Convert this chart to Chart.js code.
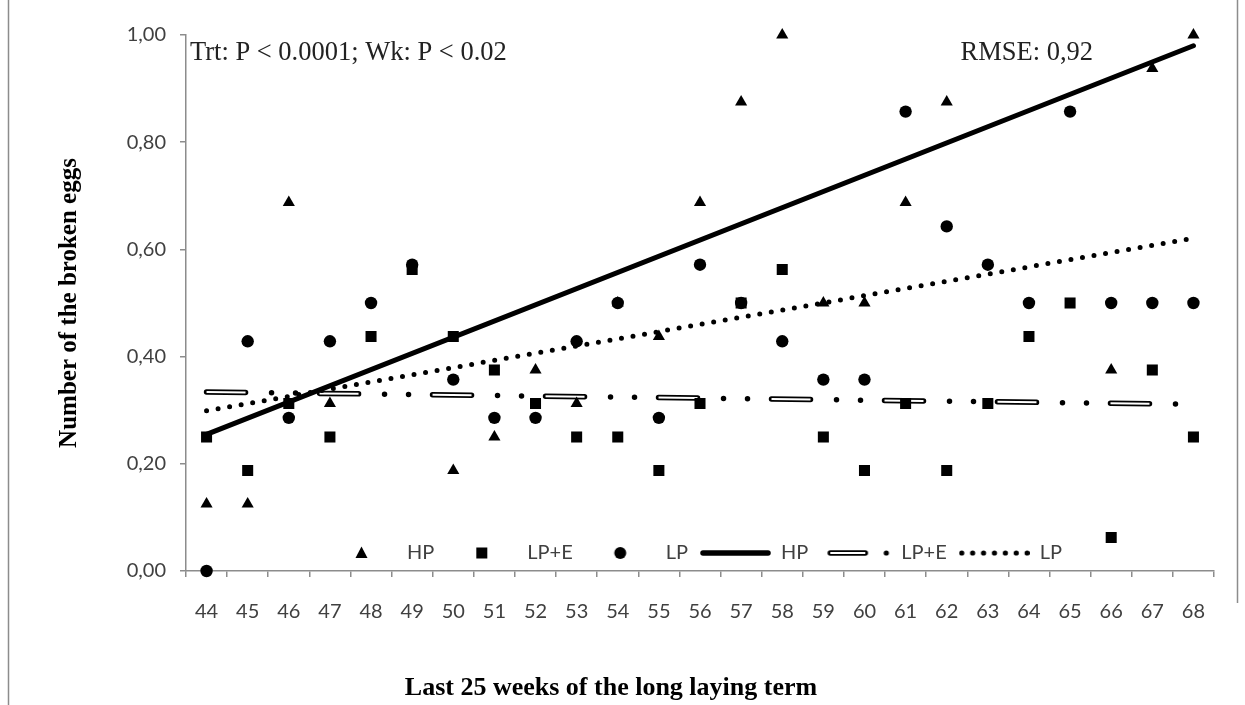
<!DOCTYPE html>
<html>
<head>
<meta charset="utf-8">
<script src="https://cdn.jsdelivr.net/npm/chart.js@4.4.1/dist/chart.umd.min.js"></script>
<style>
  html, body { margin: 0; padding: 0; background: #ffffff; }
  #wrap { position: relative; width: 1245px; height: 705px; }
  canvas { display: block; }
</style>
</head>
<body>
<div id="wrap"><canvas id="c" width="1245" height="705"></canvas></div>
<script>
// ---- data ----
const weeks = ['44','45','46','47','48','49','50','51','52','53','54','55','56','57','58','59','60','61','62','63','64','65','66','67','68'];
const hpValues   = [0.125,0.125,0.6875,0.3125,null,null,0.1875,0.25,0.375,0.3125,0.5,0.4375,0.6875,0.875,1.0,0.5,0.5,0.6875,0.875,null,null,null,0.375,0.9375,1.0];
const lpeValues  = [0.25,0.1875,0.3125,0.25,0.4375,0.5625,0.4375,0.375,0.3125,0.25,0.25,0.1875,0.3125,0.5,0.5625,0.25,0.1875,0.3125,0.1875,0.3125,0.4375,0.5,0.0625,0.375,0.25];
const lpValues   = [0.0,0.4286,0.2857,0.4286,0.5,0.5714,0.3571,0.2857,0.2857,0.4286,0.5,0.2857,0.5714,0.5,0.4286,0.3571,0.3571,0.8571,0.6429,0.5714,0.5,0.8571,0.5,0.5,0.5];
// linear trend lines: value at first and last week
const trendWeeks = ['44','68'];
const hpTrend  = [0.255, 0.980];
const lpeTrend = [0.334, 0.311];
const lpTrend  = [0.299, 0.621];
const yTicks = [0, 0.2, 0.4, 0.6, 0.8, 1.0];
const legendNames = ['HP','LP+E','LP','HP','LP+E','LP'];
const noteLeft = 'Trt: P < 0.0001; Wk: P < 0.02';
const noteRight = 'RMSE: 0,92';
const yTitle = 'Number of the broken eggs';
const xTitle = 'Last 25 weeks of the long laying term';

// ---- legend symbol images ----
function makeSym(w, h, draw) {
  const c = document.createElement('canvas');
  c.width = w; c.height = h;
  const g = c.getContext('2d');
  draw(g, w, h);
  return c;
}
const SW = 71, SH = 14;
const symTri = makeSym(SW, SH, (g, w, h) => {
  g.fillStyle = '#000'; g.beginPath();
  g.moveTo(w/2, h/2 - 6.5); g.lineTo(w/2 + 6, h/2 + 5); g.lineTo(w/2 - 6, h/2 + 5); g.closePath(); g.fill();
});
const symSq = makeSym(SW, SH, (g, w, h) => { g.fillStyle = '#000'; g.fillRect(w/2 - 5.5, h/2 - 5.5, 11, 11); });
const symCir = makeSym(SW, SH, (g, w, h) => { g.fillStyle = '#000'; g.beginPath(); g.arc(w/2, h/2, 6, 0, Math.PI*2); g.fill(); });
const symThick = makeSym(SW, SH, (g, w, h) => {
  g.strokeStyle = '#000'; g.lineWidth = 5.5; g.lineCap = 'round';
  g.beginPath(); g.moveTo(3, h/2); g.lineTo(w - 3, h/2); g.stroke();
});
const symDouble = makeSym(SW, SH, (g, w, h) => {
  g.strokeStyle = '#000'; g.lineWidth = 5.5; g.lineCap = 'round';
  g.beginPath(); g.moveTo(10, h/2); g.lineTo(45, h/2); g.stroke();
  g.strokeStyle = '#fff'; g.lineWidth = 2; g.lineCap = 'butt';
  g.beginPath(); g.moveTo(10, h/2); g.lineTo(45, h/2); g.stroke();
  g.fillStyle = '#000'; g.beginPath(); g.arc(66, h/2, 2.6, 0, Math.PI*2); g.fill();
});
const symDots = makeSym(SW, SH, (g, w, h) => {
  g.fillStyle = '#000';
  for (let i = 0; i < 7; i++) { g.beginPath(); g.arc(3 + i * 10.9, h/2, 2.6, 0, Math.PI*2); g.fill(); }
});
const legendSyms = [symTri, symSq, symCir, symThick, symDouble, symDots];

const trendData = (vals) => trendWeeks.map((w, i) => ({x: w, y: vals[i]}));

const pointSet = (label, data, style, radius) => ({
  type: 'line', label, data, showLine: false, clip: false,
  pointStyle: style, pointRadius: radius, pointHoverRadius: radius,
  pointBackgroundColor: '#000', pointBorderColor: '#000', pointBorderWidth: 0,
  borderColor: '#000', backgroundColor: '#000'
});

const datasets = [
  pointSet('HP', hpValues, 'triangle', 7),
  pointSet('LP+E', lpeValues, 'rect', 7.8),
  pointSet('LP', lpValues, 'circle', 6.2),
  { type: 'line', label: 'HP', data: trendData(hpTrend), borderColor: '#000', borderWidth: 5, pointRadius: 0, borderCapStyle: 'round', tension: 0, clip: false },
  { type: 'line', label: 'LP+E', data: trendData(lpeTrend), borderColor: '#000', borderWidth: 5.5, pointRadius: 0, borderCapStyle: 'round', borderDash: [39, 26, 0, 24, 0, 24], tension: 0 },
  { type: 'line', label: 'LP+E inner', data: trendData(lpeTrend), borderColor: '#fff', borderWidth: 2, pointRadius: 0, borderCapStyle: 'butt', borderDash: [39, 74], tension: 0 },
  { type: 'line', label: 'LP', data: trendData(lpTrend), borderColor: '#000', borderWidth: 5, pointRadius: 0, borderCapStyle: 'round', borderDash: [0, 11.7], tension: 0 }
];
// draw order (lower = on top)
datasets[0].order = 3; datasets[1].order = 2; datasets[2].order = 1;
datasets[3].order = 4; datasets[4].order = 6; datasets[5].order = 5; datasets[6].order = 4;

const LAYOUT_LEFT = 8, LAYOUT_RIGHT = 31, LAYOUT_TOP = 35;
const PLOT_LEFT = 186, PLOT_BOTTOM = 571;
const X_TITLE_SIZE = 26, X_TITLE_PAD = 1;
const X_TITLE_H = X_TITLE_SIZE * 1.2 + X_TITLE_PAD;

const extras = {
  id: 'extras',
  afterInit(chart) {
    const lg = chart.legend;
    if (lg) {
      const orig = lg.fit.bind(lg);
      lg.fit = function() { orig(); this.height = 0; };
    }
  },
  afterLayout(chart) {
    const lg = chart.legend;
    if (lg) { lg.left = 314; lg.right = 1200; lg.top = 531; lg.width = lg.right - lg.left; }
  },
  beforeDraw(chart) {
    const g = chart.ctx;
    g.save();
    g.fillStyle = '#fff'; g.fillRect(0, 0, chart.width, chart.height);
    g.strokeStyle = '#8c8c8c'; g.lineWidth = 1.5;
    g.beginPath(); g.moveTo(8.5, 0); g.lineTo(8.5, 705); g.stroke();
    g.beginPath(); g.moveTo(1237.5, 0); g.lineTo(1237.5, 603); g.stroke();
    g.restore();
  },
  afterDraw(chart) {
    const g = chart.ctx;
    g.save();
    g.fillStyle = '#222';
    g.font = '26.5px "Liberation Serif", "Times New Roman", serif';
    g.textBaseline = 'middle';
    g.textAlign = 'left';
    g.fillText(noteLeft, 190, 53);
    g.textAlign = 'right';
    g.fillText(noteRight, 1093, 53);
    g.restore();
  }
};

new Chart(document.getElementById('c'), {
  type: 'line',
  data: { labels: weeks, datasets },
  plugins: [extras],
  options: {
    responsive: false,
    animation: false,
    events: [],
    layout: { padding: { left: LAYOUT_LEFT, right: LAYOUT_RIGHT, top: LAYOUT_TOP, bottom: 0 } },
    plugins: {
      tooltip: { enabled: false },
      title: {
        display: true, position: 'bottom', text: xTitle, color: '#000',
        font: { family: '"Liberation Serif", "Times New Roman", serif', size: X_TITLE_SIZE, weight: 'bold', lineHeight: 1.2 },
        padding: { top: 0, bottom: X_TITLE_PAD }
      },
      legend: {
        display: true, position: 'bottom', align: 'start',
        labels: {
          usePointStyle: true, pointStyleWidth: SW, padding: 12,
          color: '#404040',
          font: { family: 'Lato, "Open Sans", sans-serif', size: 20 },
          generateLabels: () => legendNames.map((t, i) => ({
            text: t, pointStyle: legendSyms[i], fillStyle: '#000', strokeStyle: '#000',
            lineWidth: 0, hidden: false, datasetIndex: i, fontColor: '#404040'
          }))
        }
      }
    },
    scales: {
      x: {
        type: 'category',
        offset: true,
        afterFit(scale) { scale.height = 705 - PLOT_BOTTOM - X_TITLE_H; },
        grid: { display: true, offset: true, drawOnChartArea: false, drawTicks: true, tickLength: 6, color: '#8c8c8c', lineWidth: 1.5 },
        border: { display: true, color: '#8c8c8c', width: 1.5 },
        ticks: { color: '#404040', font: { family: 'Lato, "Open Sans", sans-serif', size: 20 }, padding: 23, maxRotation: 0, autoSkip: false },
        title: { display: false }
      },
      y: {
        type: 'linear', min: 0, max: 1,
        afterFit(scale) { scale.width = PLOT_LEFT - LAYOUT_LEFT; },
        afterBuildTicks(scale) { scale.ticks = yTicks.map(v => ({ value: v })); },
        grid: { display: true, drawOnChartArea: false, drawTicks: true, tickLength: 6, color: '#8c8c8c', lineWidth: 1.5 },
        border: { display: true, color: '#8c8c8c', width: 1.5 },
        ticks: { color: '#404040', font: { family: 'Lato, "Open Sans", sans-serif', size: 20 }, padding: 14,
          callback: (v) => Number(v).toFixed(2).replace('.', ',') },
        title: { display: true, text: yTitle, color: '#000',
          font: { family: '"Liberation Serif", "Times New Roman", serif', size: 25, weight: 'bold', lineHeight: 1.2 },
          padding: { top: 47, bottom: 0 } }
      }
    }
  }
});
</script>
</body>
</html>
